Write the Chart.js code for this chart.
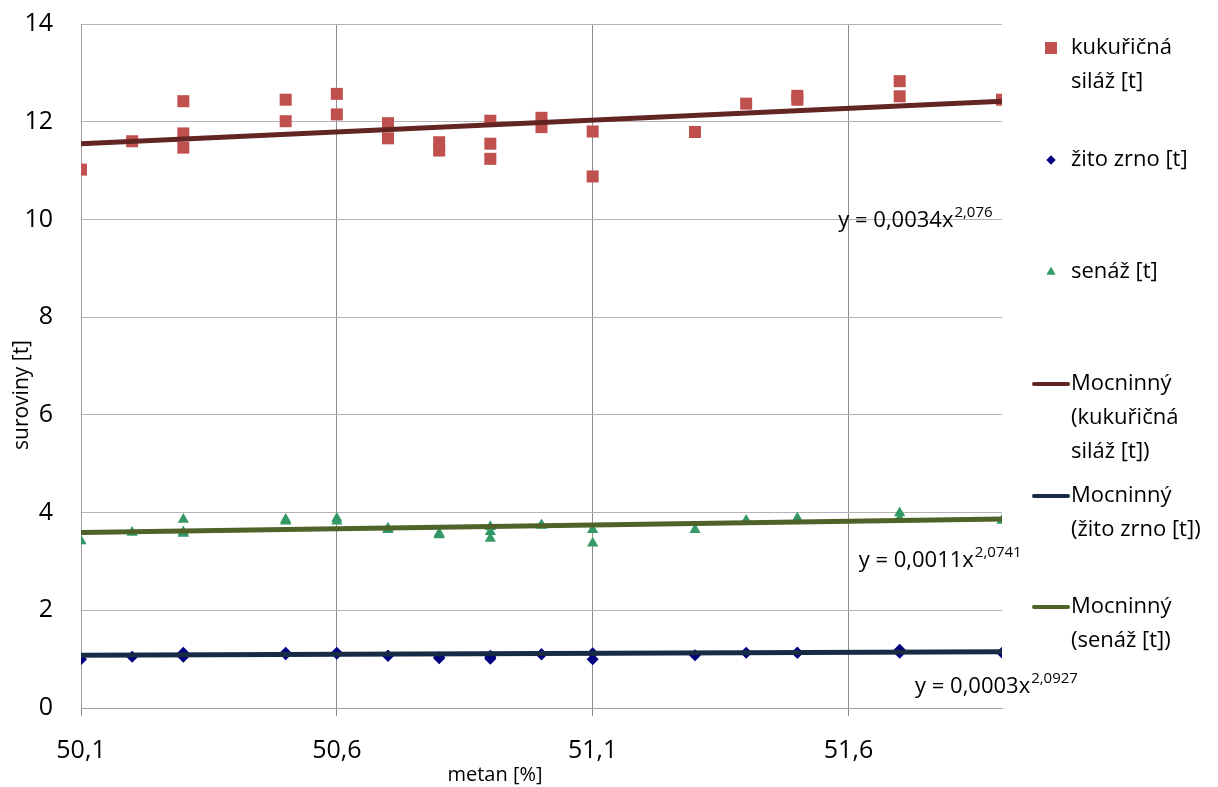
<!DOCTYPE html>
<html>
<head>
<meta charset="utf-8">
<script src="https://cdn.jsdelivr.net/npm/chart.js@4/dist/chart.umd.min.js"></script>
<style>
  html, body { margin: 0; padding: 0; background: #fff; }
  canvas { display: block; }
</style>
</head>
<body>
<canvas id="chart" width="1218" height="787"></canvas>
<script>
// metan [%] for each measured row
const metan = [50.1, 50.2, 50.3, 50.3, 50.3, 50.5, 50.5, 50.6, 50.6, 50.7, 50.7, 50.8, 50.8,
  50.9, 50.9, 50.9, 51.0, 51.0, 51.1, 51.1, 51.3, 51.4, 51.5, 51.5, 51.7, 51.7, 51.9];

// suroviny [t]
const kukuricnaSilaz = [11.02, 11.60, 12.42, 11.76, 11.47, 12.45, 12.01, 12.57, 12.15, 11.97, 11.66, 11.58, 11.41,
  12.02, 11.55, 11.24, 12.08, 11.89, 11.80, 10.88, 11.79, 12.37, 12.53, 12.45, 12.83, 12.52, 12.45];
const zitoZrno = [1.00, 1.05, 1.13, 1.05, 1.08, 1.13, 1.10, 1.13, 1.11, 1.07, 1.07, 1.02, 1.04,
  1.07, 1.01, 1.04, 1.10, 1.10, 1.12, 1.00, 1.08, 1.13, 1.13, 1.13, 1.19, 1.13, 1.13];
const senaz = [3.42, 3.59, 3.86, 3.57, 3.60, 3.86, 3.82, 3.88, 3.82, 3.65, 3.68, 3.54, 3.57,
  3.71, 3.61, 3.47, 3.74, 3.74, 3.65, 3.37, 3.65, 3.84, 3.88, 3.88, 3.99, 3.88, 3.84];

// power trendlines, end values
const trendX = [50.1, 51.9];
const trendSilaz = [11.55, 12.42];
const trendZito = [1.08, 1.15];
const trendSenaz = [3.59, 3.87];

const xTicks = [50.1, 50.6, 51.1, 51.6];
const yTicks = [0, 2, 4, 6, 8, 10, 12, 14];

const seriesNames = ["kukuřičná siláž [t]", "žito zrno [t]", "senáž [t]"];
const equations = [
  { base: "y = 0,0034x", exp: "2,076", x: 51.58, y: 9.84 },
  { base: "y = 0,0011x", exp: "2,0741", x: 51.62, y: 2.89 },
  { base: "y = 0,0003x", exp: "2,0927", x: 51.73, y: 0.31 }
];

const FONT = "'Open Sans', 'Noto Sans', sans-serif";
const pts = (ys) => metan.map((x, i) => ({ x: x, y: ys[i] }));
const trend = (ys) => trendX.map((x, i) => ({ x: x, y: ys[i] }));
const comma = (v) => String(v).replace(".", ",");

// legend, equations and axis titles
const extras = {
  id: "extras",
  afterDraw(chart) {
    const c = chart.ctx;
    const xs = chart.scales.x, ys = chart.scales.y;
    c.save();
    c.fillStyle = "#000";
    c.textBaseline = "alphabetic";

    // equations
    equations.forEach(e => {
      const px = xs.getPixelForValue(e.x), py = ys.getPixelForValue(e.y);
      c.font = "22px " + FONT;
      c.textAlign = "left";
      c.fillText(e.base, px, py);
      const w = c.measureText(e.base).width;
      c.font = "15px " + FONT;
      c.fillText(e.exp, px + w + 1, py - 10);
    });

    // axis titles
    c.font = "20px " + FONT;
    c.textAlign = "center";
    c.fillText("metan [%]", 495, 781);
    c.save();
    c.translate(28, 395);
    c.rotate(-Math.PI / 2);
    c.font = "21px " + FONT;
    c.fillText("suroviny [t]", 0, 0);
    c.restore();

    // legend
    c.font = "22px " + FONT;
    c.textAlign = "left";
    c.textBaseline = "middle";
    const tx = 1071;
    const sets = chart.data.datasets;
    const markers = [
      { y: 48, lines: ["kukuřičná", "siláž [t]"] },
      { y: 160, lines: ["žito zrno [t]"] },
      { y: 272, lines: ["senáž [t]"] }
    ];
    markers.forEach((m, i) => {
      const ds = sets[i + 3];
      c.fillStyle = ds.backgroundColor;
      c.strokeStyle = ds.backgroundColor;
      Chart.helpers.drawPoint(c, { pointStyle: ds.pointStyle, radius: ds.legendRadius, rotation: 0, borderWidth: 0 }, 1051, m.y);
      c.fill();
      c.fillStyle = "#000";
      m.lines.forEach((t, k) => c.fillText(t, tx, m.y + k * 34));
    });
    const lines = [
      { y: 384, lines: ["Mocninný", "(kukuřičná", "siláž [t])"] },
      { y: 496, lines: ["Mocninný", "(žito zrno [t])"] },
      { y: 607, lines: ["Mocninný", "(senáž [t])"] }
    ];
    lines.forEach((m, i) => {
      const ds = sets[i];
      c.strokeStyle = ds.borderColor;
      c.lineWidth = 4;
      c.lineCap = "round";
      c.beginPath();
      c.moveTo(1034, m.y);
      c.lineTo(1068, m.y);
      c.stroke();
      c.fillStyle = "#000";
      m.lines.forEach((t, k) => c.fillText(t, tx, m.y + k * 34));
    });
    c.restore();
  }
};

new Chart(document.getElementById("chart").getContext("2d"), {
  type: "scatter",
  data: {
    datasets: [
      { type: "line", label: "Mocninný (" + seriesNames[0] + ")", data: trend(trendSilaz), borderColor: "#632523",
        borderWidth: 5, pointRadius: 0, fill: false, order: 0 },
      { type: "line", label: "Mocninný (" + seriesNames[1] + ")", data: trend(trendZito), borderColor: "#172B45",
        borderWidth: 5, pointRadius: 0, fill: false, order: 0 },
      { type: "line", label: "Mocninný (" + seriesNames[2] + ")", data: trend(trendSenaz), borderColor: "#4F6228",
        borderWidth: 5, pointRadius: 0, fill: false, order: 0 },
      { label: seriesNames[0], data: pts(kukuricnaSilaz), pointStyle: "rect", pointRadius: 8.5, legendRadius: 8.3,
        backgroundColor: "#C0504D", borderColor: "#C0504D", borderWidth: 0, order: 1 },
      { label: seriesNames[1], data: pts(zitoZrno), pointStyle: "rectRot", pointRadius: 6, legendRadius: 4.5,
        backgroundColor: "#000080", borderColor: "#000080", borderWidth: 0, order: 1 },
      { label: seriesNames[2], data: pts(senaz), pointStyle: "triangle", pointRadius: 6.5, legendRadius: 5,
        backgroundColor: "#339966", borderColor: "#339966", borderWidth: 0, order: 1 }
    ]
  },
  options: {
    responsive: false,
    animation: false,
    layout: { padding: { top: 24, right: 216, left: 0, bottom: 0 } },
    plugins: { legend: { display: false }, tooltip: { enabled: false } },
    scales: {
      x: {
        type: "linear",
        min: 50.1,
        max: 51.9,
        afterBuildTicks: s => { s.ticks = xTicks.map(v => ({ value: v })); },
        afterFit: s => { s.height = 79; s.paddingLeft = 0; s.paddingRight = 0; },
        grid: { color: "#8c8c8c", lineWidth: 1, tickLength: 8, drawTicks: true },
        border: { color: "#a0a0a0" },
        ticks: { color: "#000", font: { family: FONT, size: 25 }, padding: 20, maxRotation: 0,
          callback: v => comma(v.toFixed(1)) }
      },
      y: {
        min: 0,
        max: 14,
        afterBuildTicks: s => { s.ticks = yTicks.map(v => ({ value: v })); },
        afterFit: s => { s.width = 81; s.paddingTop = 0; s.paddingBottom = 0; },
        grid: { color: "#b4b4b4", lineWidth: 1, drawTicks: false },
        border: { color: "#a0a0a0" },
        ticks: { color: "#000", font: { family: FONT, size: 25 }, padding: 28, callback: v => String(v) }
      }
    }
  },
  plugins: [extras]
});
</script>
</body>
</html>
